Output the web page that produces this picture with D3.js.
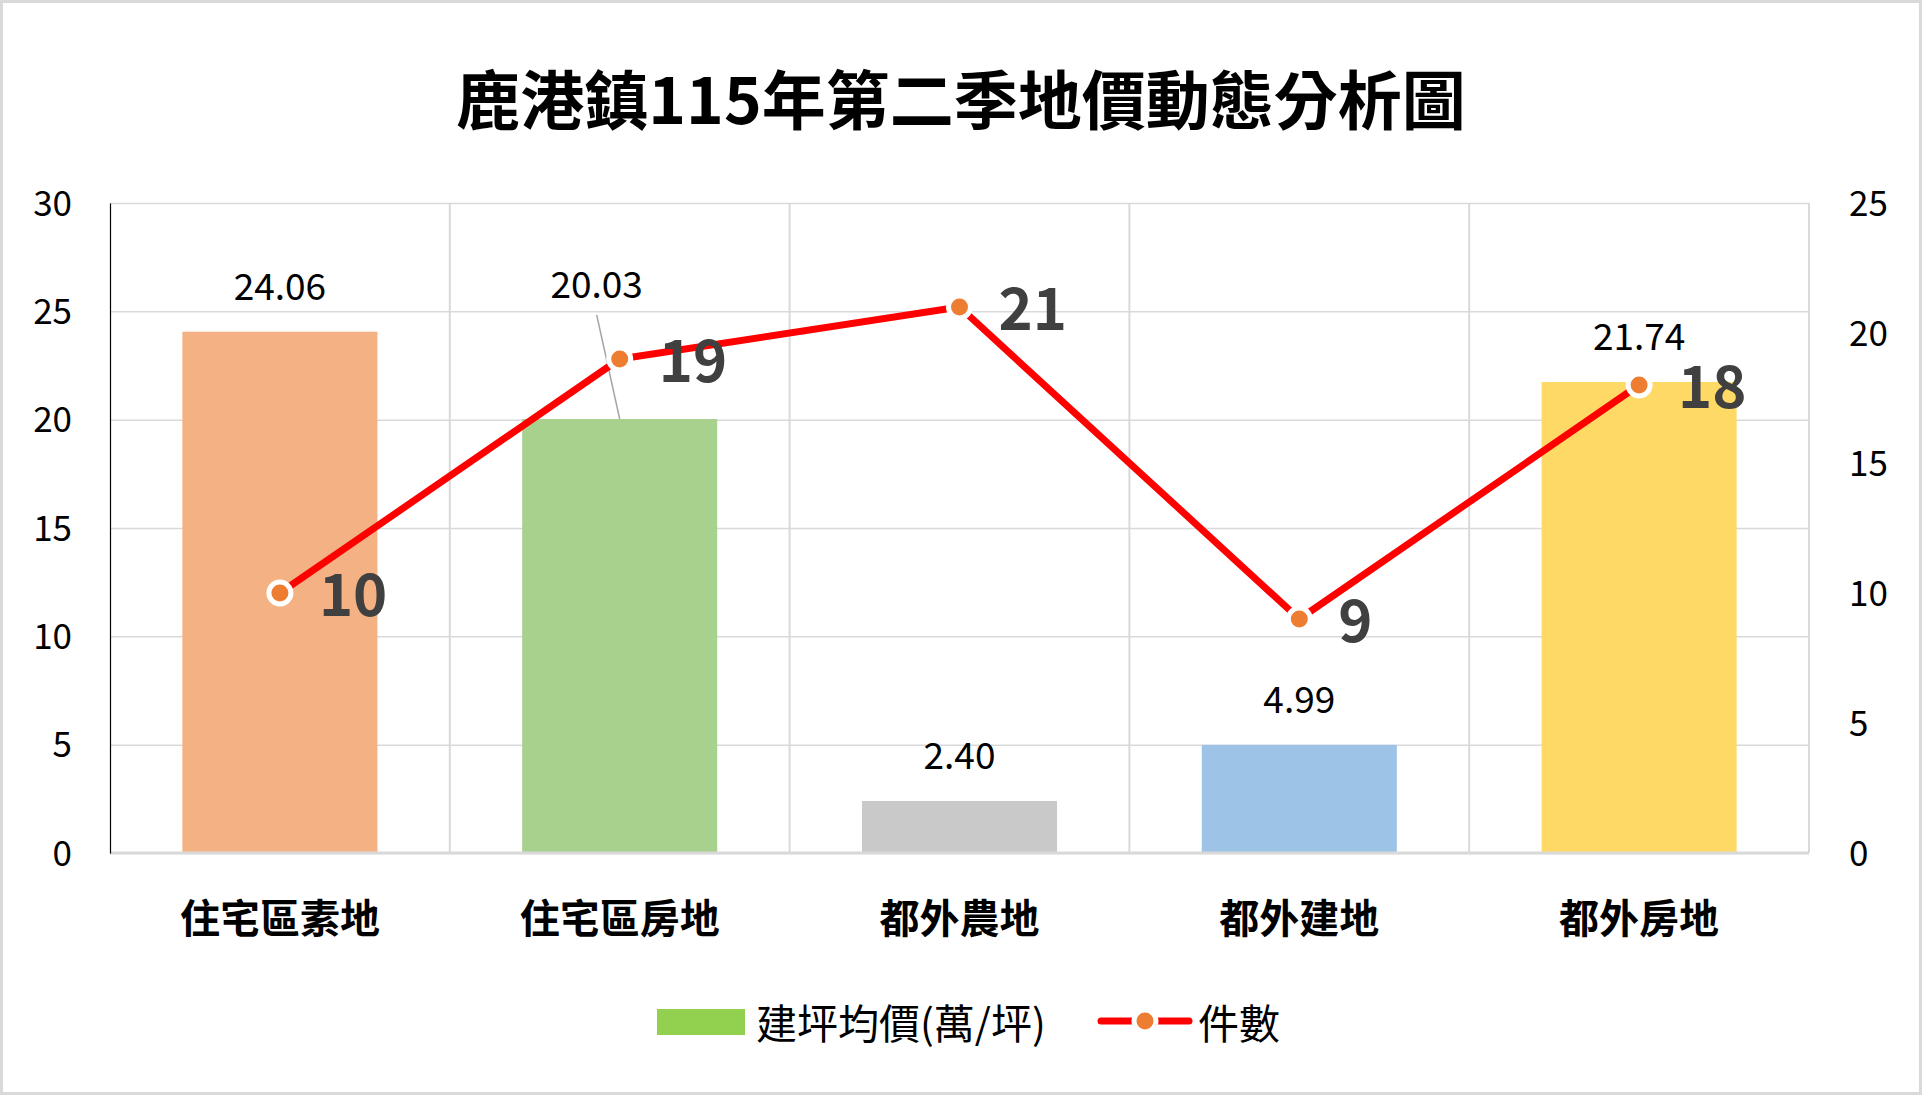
<!DOCTYPE html>
<html>
<head>
<meta charset="utf-8">
<script src="https://cdn.jsdelivr.net/npm/d3@7"></script>
<style>
  body { margin: 0; background: #fff; }
  svg text { font-family: "Noto Sans CJK TC", "Noto Sans", sans-serif; }
</style>
</head>
<body>
<script>
// data
var title = "鹿港鎮115年第二季地價動態分析圖";
var categories = ["住宅區素地", "住宅區房地", "都外農地", "都外建地", "都外房地"];
var avgPrice = [24.06, 20.03, 2.40, 4.99, 21.74];   // 建坪均價(萬/坪)
var counts = [10, 19, 21, 9, 18];                     // 件數
var barColors = ["#F4B183", "#A9D18E", "#C9C9C9", "#9DC3E6", "#FFD966"];
var leftTicks = [0, 5, 10, 15, 20, 25, 30];
var rightTicks = [0, 5, 10, 15, 20, 25];
var legendNames = ["建坪均價(萬/坪)", "件數"];

var width = 1922;
var height = 1095;
var plot = {left: 110, right: 1809, top: 203, bottom: 853};

var svg = d3.select("body").append("svg")
    .attr("width", width)
    .attr("height", height);

// outer frame
svg.append("rect")
    .attr("x", 1.5).attr("y", 1.5)
    .attr("width", width - 3).attr("height", height - 3)
    .attr("fill", "#fff")
    .attr("stroke", "#d9d9d9")
    .attr("stroke-width", 3);

svg.append("text")
    .attr("x", width / 2)
    .attr("y", 96)
    .attr("text-anchor", "middle")
    .attr("dominant-baseline", "central")
    .attr("font-size", 64)
    .attr("font-weight", 700)
    .attr("fill", "#000")
    .text(title);

var x = d3.scaleBand()
    .domain(categories)
    .range([plot.left, plot.right])
    .paddingInner(0.426)
    .paddingOuter(0.213);

var yL = d3.scaleLinear().domain([0, 30]).range([plot.bottom, plot.top]);
var yR = d3.scaleLinear().domain([0, 25]).range([plot.bottom, plot.top]);

var step = x.step();

// horizontal grid
svg.append("g")
    .attr("transform", "translate(" + plot.left + ",0)")
    .call(d3.axisLeft(yL).tickValues(leftTicks).tickSize(-(plot.right - plot.left)).tickFormat(""))
    .call(function(g){
      g.select(".domain").remove();
      g.selectAll("line").attr("stroke", "#d9d9d9").attr("stroke-width", 1.5);
    });

// vertical category separators
svg.append("g").selectAll("line")
    .data(categories)
    .enter().append("line")
    .attr("x1", function(d){ return x(d) + x.bandwidth() + (step - x.bandwidth()) / 2; })
    .attr("x2", function(d){ return x(d) + x.bandwidth() + (step - x.bandwidth()) / 2; })
    .attr("y1", plot.top)
    .attr("y2", plot.bottom)
    .attr("stroke", "#d9d9d9")
    .attr("stroke-width", 2);

// bars
svg.append("g").selectAll("rect")
    .data(avgPrice)
    .enter().append("rect")
    .attr("x", function(d, i){ return x(categories[i]); })
    .attr("y", function(d){ return yL(d); })
    .attr("width", x.bandwidth())
    .attr("height", function(d){ return yL(0) - yL(d); })
    .attr("fill", function(d, i){ return barColors[i]; });

// x baseline
svg.append("line")
    .attr("x1", plot.left).attr("x2", plot.right)
    .attr("y1", plot.bottom).attr("y2", plot.bottom)
    .attr("stroke", "#d9d9d9").attr("stroke-width", 3);

// left axis
svg.append("g")
    .attr("transform", "translate(" + plot.left + ",0)")
    .call(d3.axisLeft(yL).tickValues(leftTicks).tickSize(0).tickPadding(38))
    .call(function(g){
      g.select(".domain").attr("stroke", "#000").attr("stroke-width", 1.2);
      g.selectAll("text")
        .attr("font-size", 35)
        .attr("fill", "#000")
        .attr("font-family", "'Noto Sans CJK TC', sans-serif")
        .attr("dy", "0.35em");
    });

// right axis
svg.append("g")
    .attr("transform", "translate(" + plot.right + ",0)")
    .call(d3.axisRight(yR).tickValues(rightTicks).tickSize(0).tickPadding(40))
    .call(function(g){
      g.select(".domain").remove();
      g.selectAll("text")
        .attr("font-size", 35)
        .attr("fill", "#000")
        .attr("font-family", "'Noto Sans CJK TC', sans-serif")
        .attr("dy", "0.35em");
    });

// category labels
svg.append("g")
    .attr("transform", "translate(0," + plot.bottom + ")")
    .call(d3.axisBottom(x).tickSize(0).tickPadding(52))
    .call(function(g){
      g.select(".domain").remove();
      g.selectAll("text")
        .attr("font-size", 40)
        .attr("font-weight", 700)
        .attr("fill", "#000")
        .attr("font-family", "'Noto Sans CJK TC', sans-serif");
    });

// bar value labels (the second one was dragged up, with a leader line)
function labelPos(d, i){
  var cx = x(categories[i]) + x.bandwidth() / 2;
  var cy = yL(d) - 48;
  if (i === 1) { cx -= 23; cy -= 89; }
  return [cx, cy];
}

svg.append("line")
    .attr("x1", labelPos(avgPrice[1], 1)[0])
    .attr("y1", labelPos(avgPrice[1], 1)[1] + 33)
    .attr("x2", x(categories[1]) + x.bandwidth() / 2)
    .attr("y2", yL(avgPrice[1]))
    .attr("stroke", "#a6a6a6")
    .attr("stroke-width", 1.5);

svg.append("g").selectAll("text")
    .data(avgPrice)
    .enter().append("text")
    .attr("x", function(d, i){ return labelPos(d, i)[0]; })
    .attr("y", function(d, i){ return labelPos(d, i)[1]; })
    .attr("text-anchor", "middle")
    .attr("dominant-baseline", "central")
    .attr("font-size", 37)
    .attr("fill", "#000")
    .text(function(d){ return d3.format(".2f")(d); });

// count line
var line = d3.line()
    .x(function(d, i){ return x(categories[i]) + x.bandwidth() / 2; })
    .y(function(d){ return yR(d); });

svg.append("path")
    .datum(counts)
    .attr("d", line)
    .attr("fill", "none")
    .attr("stroke", "#FF0000")
    .attr("stroke-width", 7)
    .attr("stroke-linejoin", "round");

svg.append("g").selectAll("circle")
    .data(counts)
    .enter().append("circle")
    .attr("cx", function(d, i){ return x(categories[i]) + x.bandwidth() / 2; })
    .attr("cy", function(d){ return yR(d); })
    .attr("r", 11)
    .attr("fill", "#ED7D31")
    .attr("stroke", "#fff")
    .attr("stroke-width", 5);

svg.append("g").selectAll("text")
    .data(counts)
    .enter().append("text")
    .attr("x", function(d, i){ return x(categories[i]) + x.bandwidth() / 2 + 39; })
    .attr("y", function(d){ return yR(d) - 2; })
    .attr("dominant-baseline", "central")
    .attr("font-size", 58)
    .attr("font-weight", 700)
    .attr("fill", "#404040")
    .text(function(d){ return d; });

// legend
var lg = svg.append("g");
lg.append("rect")
    .attr("x", 657).attr("y", 1009)
    .attr("width", 88).attr("height", 26)
    .attr("fill", "#92D050");
lg.append("text")
    .attr("x", 756).attr("y", 1021)
    .attr("dominant-baseline", "central")
    .attr("font-size", 41)
    .attr("fill", "#000")
    .text(legendNames[0]);
lg.append("line")
    .attr("x1", 1101).attr("x2", 1189)
    .attr("y1", 1021).attr("y2", 1021)
    .attr("stroke", "#FF0000")
    .attr("stroke-width", 7)
    .attr("stroke-linecap", "round");
lg.append("circle")
    .attr("cx", 1145).attr("cy", 1021)
    .attr("r", 11)
    .attr("fill", "#ED7D31")
    .attr("stroke", "#fff")
    .attr("stroke-width", 5);
lg.append("text")
    .attr("x", 1198).attr("y", 1021)
    .attr("dominant-baseline", "central")
    .attr("font-size", 41)
    .attr("fill", "#000")
    .text(legendNames[1]);
</script>
</body>
</html>
